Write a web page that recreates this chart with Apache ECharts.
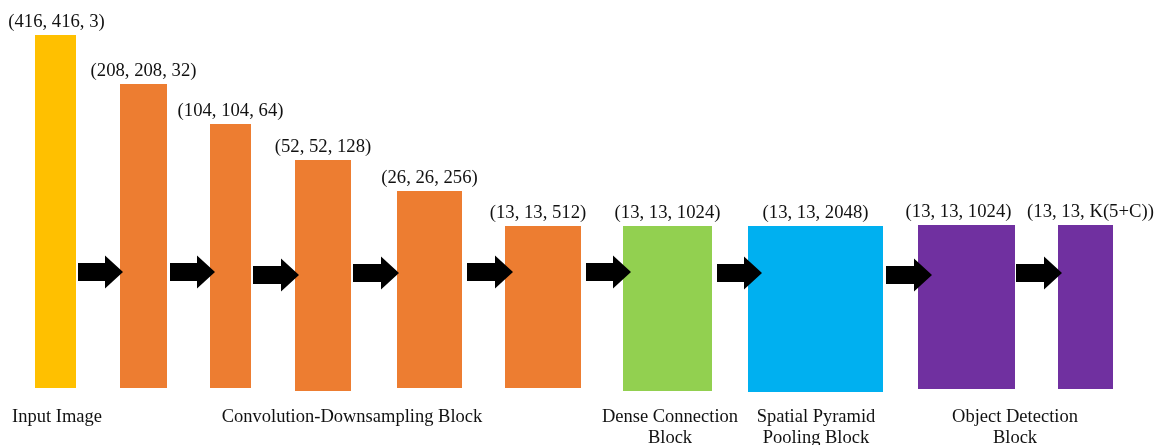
<!DOCTYPE html>
<html>
<head>
<meta charset="utf-8">
<script src="https://cdn.jsdelivr.net/npm/echarts@6/dist/echarts.min.js"></script>
<style>
html,body{margin:0;padding:0;background:#fff;}
#chart{width:1163px;height:445px;}
</style>
</head>
<body>
<div id="chart"></div>
<script>
// Layer output shapes (text above each block)
const layerShapes = ['(416, 416, 3)', '(208, 208, 32)', '(104, 104, 64)', '(52, 52, 128)', '(26, 26, 256)',
  '(13, 13, 512)', '(13, 13, 1024)', '(13, 13, 2048)', '(13, 13, 1024)', '(13, 13, K(5+C))'];
// Block extents in diagram units (x left/right, y top/bottom measured downward)
const blockLeft   = [35, 120, 210, 295, 397, 505, 623, 748, 918, 1058];
const blockRight  = [76, 167, 251, 351, 462, 581, 712, 883, 1015, 1113];
const blockTop    = [35, 84, 124, 160, 191, 226, 226, 226, 225, 225];
const blockBottom = [388, 388, 388, 391, 388, 388, 391, 392, 389, 389];
const blockKind   = ['input', 'conv', 'conv', 'conv', 'conv', 'conv', 'dense', 'spp', 'detect', 'detect'];
// Arrows between blocks (diagram units)
const arrowStart = [78, 170, 253, 353, 467, 586, 717, 886, 1016];
const arrowEnd   = [123, 215, 299, 399, 513, 631, 762, 932, 1062];
const arrowY     = [272, 272, 275, 273, 272, 272, 273, 275, 273];
// Stage labels under the blocks
const stageNames = ['Input Image', 'Convolution-Downsampling Block', 'Dense Connection\nBlock', 'Spatial Pyramid\nPooling Block', 'Object Detection\nBlock'];
const stageCenterX = [57, 352, 670, 816, 1015];

const kindColor = {input: '#FFC000', conv: '#ED7D31', dense: '#92D050', spp: '#00B0F0', detect: '#7030A0'};
const labelDx = [1, 0, 0, 0, 0, -5, 0, 0, -8, 5];
const FONT = "'Liberation Serif', 'Times New Roman', serif";

const blockData = blockLeft.map((l, i) => [l, blockRight[i], blockTop[i], blockBottom[i]]);
const arrowData = arrowY.map((y, i) => [arrowStart[i], arrowEnd[i], y]);
const stageData = stageNames.map((n, i) => [stageCenterX[i], 417]);

const chart = echarts.init(document.getElementById('chart'), null, {renderer: 'canvas'});
chart.setOption({
  animation: false,
  backgroundColor: '#ffffff',
  grid: {left: 0, right: 0, top: 0, bottom: 0},
  xAxis: {type: 'value', min: 0, max: 1163, show: false},
  yAxis: {type: 'value', min: 0, max: 445, inverse: true, show: false},
  series: [
    {
      type: 'custom',
      data: blockData,
      renderItem: function (params, api) {
        const i = params.dataIndex;
        const p0 = api.coord([api.value(0), api.value(2)]);
        const p1 = api.coord([api.value(1), api.value(3)]);
        return {
          type: 'group',
          children: [
            {type: 'rect', shape: {x: p0[0], y: p0[1], width: p1[0] - p0[0], height: p1[1] - p0[1]},
             style: {fill: kindColor[blockKind[i]]}},
            {type: 'text', style: {text: layerShapes[i], x: (p0[0] + p1[0]) / 2 + labelDx[i], y: p0[1] - 13,
              textAlign: 'center', textVerticalAlign: 'middle', font: '18.7px ' + FONT, fill: '#111'}}
          ]
        };
      }
    },
    {
      type: 'custom',
      data: arrowData,
      z: 3,
      renderItem: function (params, api) {
        const a = api.coord([api.value(0), api.value(2)]);
        const b = api.coord([api.value(1), api.value(2)]);
        const yc = a[1], x0 = a[0], x1 = b[0];
        const hs = 9, hh = 16.5, hl = 18;
        return {
          type: 'polygon',
          shape: {points: [[x0, yc - hs], [x1 - hl, yc - hs], [x1 - hl, yc - hh], [x1, yc], [x1 - hl, yc + hh], [x1 - hl, yc + hs], [x0, yc + hs]]},
          style: {fill: '#000'}
        };
      }
    },
    {
      type: 'custom',
      data: stageData,
      renderItem: function (params, api) {
        const p = api.coord([api.value(0), api.value(1)]);
        return {
          type: 'text',
          style: {text: stageNames[params.dataIndex], x: p[0], y: p[1] - 10, textAlign: 'center', textVerticalAlign: 'top',
            font: '18.5px ' + FONT, lineHeight: 21, fill: '#111'}
        };
      }
    }
  ]
});
</script>
</body>
</html>
